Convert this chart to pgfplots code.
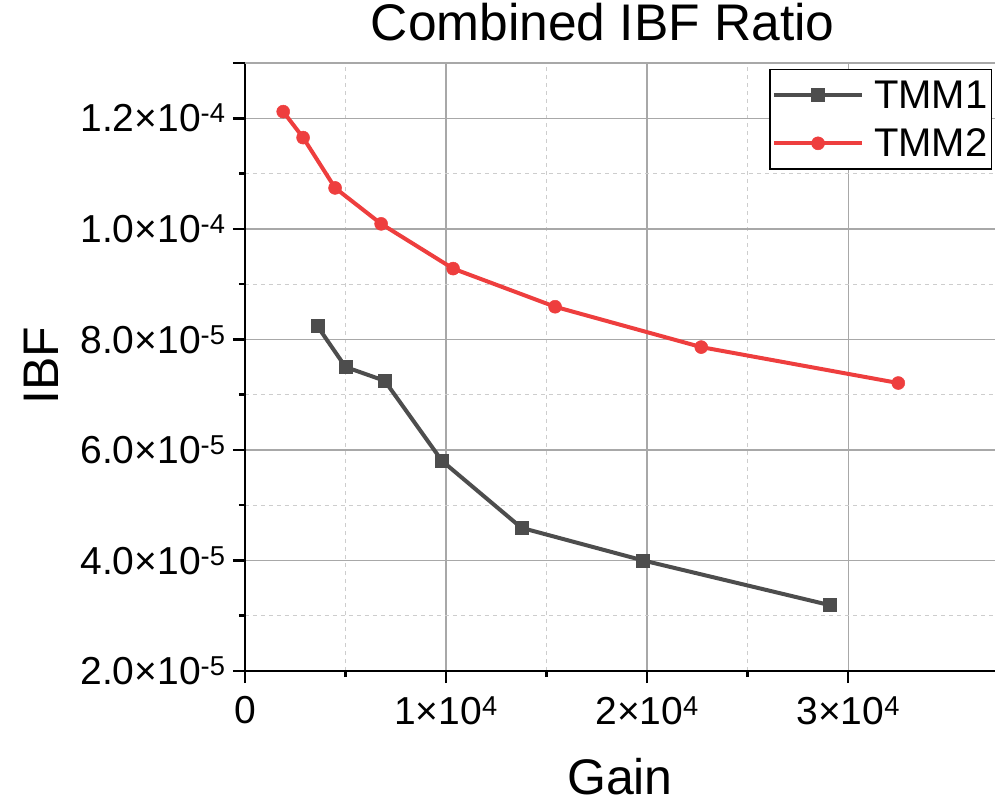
\documentclass[border=0pt]{standalone}
\usepackage{pgfplots}
\pgfplotsset{compat=1.18}
\usepackage{fontspec}
\setmainfont{Liberation Sans}
\definecolor{cA}{RGB}{77,77,77}
\definecolor{cB}{RGB}{238,62,62}
\definecolor{gmaj}{RGB}{168,168,168}
\definecolor{gmin}{RGB}{205,205,205}
\begin{document}
\begin{tikzpicture}
\useasboundingbox (-245bp,-134bp) rectangle (751bp,671bp);
\begin{axis}[
  at={(0,0)}, anchor=south west,
  scale only axis, width=750bp, height=608bp,
  xmin=0, xmax=37300, ymin=2e-5, ymax=1.3e-4,
  axis x line*=bottom, axis y line*=left,
  axis line style={line width=2.5bp, black, -},
  xtick={0,10000,20000,30000},
  xticklabels={0,1×10\textsuperscript{4},2×10\textsuperscript{4},3×10\textsuperscript{4}},
  ytick={2e-5,4e-5,6e-5,8e-5,1e-4,1.2e-4},
  yticklabels={2.0×10\textsuperscript{-5},4.0×10\textsuperscript{-5},6.0×10\textsuperscript{-5},8.0×10\textsuperscript{-5},1.0×10\textsuperscript{-4},1.2×10\textsuperscript{-4}},
  scaled x ticks=false, scaled y ticks=false,
  minor x tick num=1, minor y tick num=1,
  extra y ticks={1.3e-4}, extra y tick labels={},
  extra y tick style={grid=major, major tick length=12bp},
  tick align=outside,
  major tick length=12bp, minor tick length=6bp,
  tick style={line width=2.5bp, black},
  grid=both,
  major grid style={line width=1.4bp, gmaj, solid},
  minor grid style={line width=1bp, gmin, dash pattern=on 4bp off 4bp},
  tick label style={font=\fontsize{39bp}{44bp}\selectfont},
  xticklabel style={yshift=-10bp},
  yticklabel style={xshift=-4bp},
  title={Combined IBF Ratio},
  title style={font=\fontsize{51.5bp}{58bp}\selectfont, at={(rel axis cs:0.477,1)}, anchor=base, yshift=17bp},
  xlabel={Gain},
  xlabel style={font=\fontsize{50bp}{56bp}\selectfont, at={(rel axis cs:0.5,0)}, anchor=base, yshift=-123bp, inner sep=0bp},
  ylabel={IBF},
  ylabel style={font=\fontsize{50bp}{56bp}\selectfont, at={(rel axis cs:0,0.502)}, anchor=base, yshift=186bp},
  legend style={at={(rel axis cs:1,1)}, anchor=north east, xshift=-3bp, yshift=-6bp,
    draw=black, line width=1.2bp, fill=white,
    font=\fontsize{40bp}{45bp}\selectfont,
    inner xsep=2bp, inner ysep=9bp, row sep=15bp, column sep=8bp,
    nodes={inner sep=2bp}},
  legend cell align=left,
  legend image code/.code={
    \draw[line width=4bp, mark repeat=2, mark phase=2] plot coordinates {(0bp,0bp) (44bp,0bp) (88bp,0bp)};
  },
]
\addplot[cA, line width=4bp, mark=square*, mark size=6.5bp, mark options={solid, line width=0.5bp}]
coordinates {
(3600,8.24e-5) (5000,7.50e-5) (6950,7.25e-5) (9800,5.80e-5) (13750,4.59e-5) (19800,4.00e-5) (29100,3.19e-5)
};
\addlegendentry{TMM1}
\addplot[cB, line width=4bp, mark=*, mark size=6.5bp, mark options={solid, line width=0.5bp}]
coordinates {
(1900,1.212e-4) (2890,1.165e-4) (4480,1.074e-4) (6770,1.009e-4) (10350,9.28e-5) (15420,8.59e-5) (22690,7.86e-5) (32490,7.21e-5)
};
\addlegendentry{TMM2}
\end{axis}
\end{tikzpicture}
\end{document}
